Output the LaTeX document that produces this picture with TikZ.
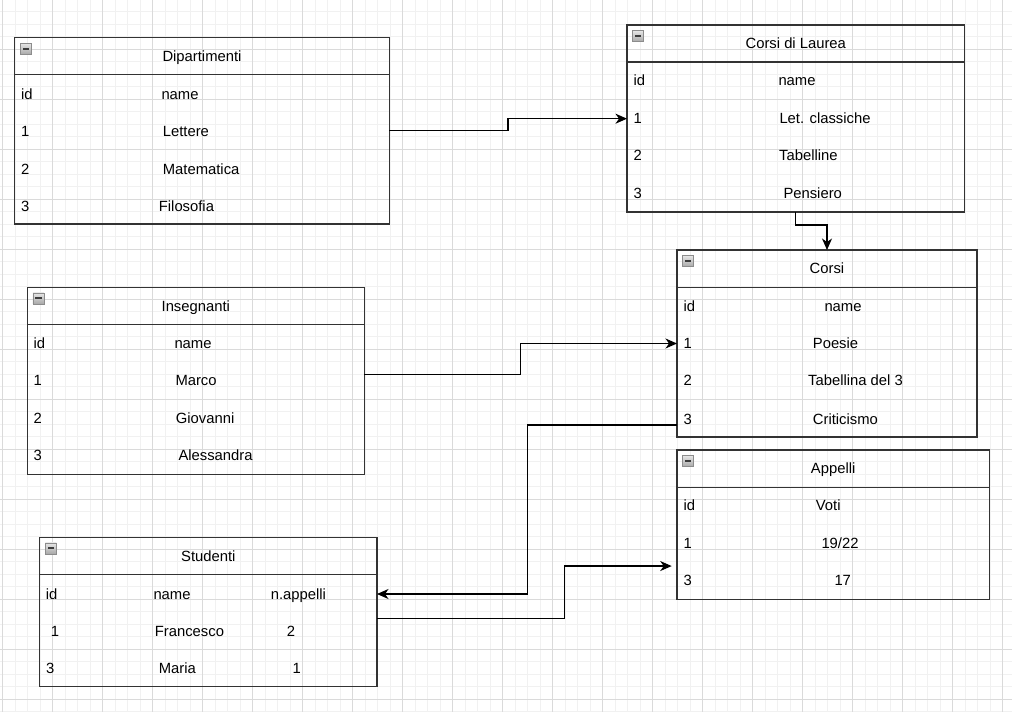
\documentclass[tikz,border=0pt]{standalone}
\usepackage{fontspec}
\setmainfont{Liberation Sans}
\usetikzlibrary{arrows.meta}

\definecolor{gridminor}{HTML}{F1F1F1}
\definecolor{gridmajor}{HTML}{DADADA}
\definecolor{boxline}{HTML}{333333}
\definecolor{iconedge}{HTML}{8C8C8C}
\definecolor{iconlight}{HTML}{E6E6E6}
\definecolor{icondark}{HTML}{A8A8A8}
\definecolor{iconbar}{HTML}{3C3C3C}

\newcommand{\tabfont}{\fontsize{14.8}{17}\selectfont}

\tikzset{
    tablebox/.style={draw=boxline, line width=1.3pt, inner sep=0pt, outer sep=0pt, anchor=north west},
    divider/.style={draw=boxline, line width=1.3pt},
    cell/.style={anchor=west, inner sep=0pt, text height=10.5pt, text depth=0pt, font=\tabfont},
    title/.style={anchor=center, inner sep=0pt, text height=10.5pt, text depth=0pt, font=\tabfont},
    icon/.style={draw=iconedge, line width=0.8pt, top color=iconlight, bottom color=icondark,
        minimum size=11pt, inner sep=0pt, outer sep=0pt, anchor=north west,
        path picture={\fill[iconbar] ([xshift=2.2pt,yshift=-1pt]path picture bounding box.west)
            rectangle ([xshift=-2.2pt,yshift=1pt]path picture bounding box.east);}},
    link/.style={draw=black, line width=1.2pt, -{Stealth[length=11.5pt,width=10pt,inset=3.5pt]}}
}

\begin{document}
\begin{tikzpicture}[x=1pt, y=-1pt]
        \useasboundingbox (0,0) rectangle (1012,712);
        \fill[white] (0,0) rectangle (1012,712);

        % grid
        \begin{scope}
            \clip (0,0) rectangle (1012,712);
            \draw[gridminor, line width=1pt, shift={(2.7pt,0.7pt)}] (-25,-25) grid[step=12.5pt] (1025,725);
            \draw[gridmajor, line width=1pt, shift={(2.7pt,0.7pt)}] (-50,-50) grid[step=50pt] (1050,750);
        \end{scope}

        % Dipartimenti
        \node[tablebox, minimum width=374.6pt, minimum height=186.3pt] (dip) at (14.7,37.7) {};
        \draw[divider] (14.7,74.7) -- (389.3,74.7);
        \node[icon] (dipIcon) at (20.3,43.3) {};
        \node[title] (dipT) at (202,56.2) {Dipartimenti};
        \node[cell] (dipIdH) at (21,94) {id};
        \node[cell] (dipNameH) at (161.3,94) {name};
        \node[cell] (dipId1) at (21,131) {1};
        \node[cell] (dipName1) at (162.7,131) {Lettere};
        \node[cell] (dipId2) at (21,169) {2};
        \node[cell] (dipName2) at (162.7,169) {Matematica};
        \node[cell] (dipId3) at (21,206) {3};
        \node[cell] (dipName3) at (158.7,206) {Filosofia};

        % Corsi di Laurea
        \node[tablebox, minimum width=337.7pt, minimum height=187pt] (cdl) at (627,25) {};
        \draw[divider] (627,62) -- (964.7,62);
        \node[icon] (cdlIcon) at (632.6,30.6) {};
        \node[title] (cdlT) at (795.8,43.5) {Corsi di Laurea};
        \node[cell] (cdlIdH) at (633.3,80.7) {id};
        \node[cell] (cdlNameH) at (778.3,80.7) {name};
        \node[cell] (cdlId1) at (633.3,118.7) {1};
        \node[cell] (cdlName1) at (779.3,118.7) {Let. classiche};
        \node[cell] (cdlId2) at (633.3,155.7) {2};
        \node[cell] (cdlName2) at (779,155.7) {Tabelline};
        \node[cell] (cdlId3) at (633.3,193.7) {3};
        \node[cell] (cdlName3) at (783.3,193.7) {Pensiero};

        % Corsi
        \node[tablebox, minimum width=300pt, minimum height=187pt] (corsi) at (677,250) {};
        \draw[divider] (677,287.3) -- (977,287.3);
        \node[icon] (corsiIcon) at (682.6,255.6) {};
        \node[title] (corsiT) at (827,268.7) {Corsi};
        \node[cell] (corsiIdH) at (683.3,306) {id};
        \node[cell] (corsiNameH) at (824.3,306) {name};
        \node[cell] (corsiId1) at (683.3,343.7) {1};
        \node[cell] (corsiName1) at (812.7,343.7) {Poesie};
        \node[cell] (corsiId2) at (683.3,380.7) {2};
        \node[cell] (corsiName2) at (808,380.7) {Tabellina del 3};
        \node[cell] (corsiId3) at (683.3,419) {3};
        \node[cell] (corsiName3) at (812.7,419) {Criticismo};

        % Insegnanti
        \node[tablebox, minimum width=337pt, minimum height=187pt] (ins) at (27.3,287.3) {};
        \draw[divider] (27.3,324.3) -- (364.3,324.3);
        \node[icon] (insIcon) at (32.9,292.9) {};
        \node[title] (insT) at (195.8,305.8) {Insegnanti};
        \node[cell] (insIdH) at (33.3,343.3) {id};
        \node[cell] (insNameH) at (174.3,343.3) {name};
        \node[cell] (insId1) at (33.3,380.7) {1};
        \node[cell] (insName1) at (175.3,380.7) {Marco};
        \node[cell] (insId2) at (33.3,418.3) {2};
        \node[cell] (insName2) at (175.7,418.3) {Giovanni};
        \node[cell] (insId3) at (33.3,455.7) {3};
        \node[cell] (insName3) at (178.3,455.7) {Alessandra};

        % Appelli
        \node[tablebox, minimum width=312.3pt, minimum height=149.7pt] (app) at (677,450) {};
        \draw[divider] (677,487.3) -- (989.3,487.3);
        \node[icon] (appIcon) at (682.6,455.6) {};
        \node[title] (appT) at (833.2,468.7) {Appelli};
        \node[cell] (appIdH) at (683.3,505.7) {id};
        \node[cell] (appVotiH) at (815.7,505.7) {Voti};
        \node[cell] (appId1) at (683.3,543.7) {1};
        \node[cell] (appVoti1) at (821.3,543.7) {19/22};
        \node[cell] (appId3) at (683.3,580.7) {3};
        \node[cell] (appVoti3) at (834.3,580.7) {17};

        % Studenti
        \node[tablebox, minimum width=337.3pt, minimum height=149.4pt] (stu) at (39.7,537.3) {};
        \draw[divider] (39.7,574.7) -- (377,574.7);
        \node[icon] (stuIcon) at (45.3,542.9) {};
        \node[title] (stuT) at (208.3,556) {Studenti};
        \node[cell] (stuIdH) at (45.7,594) {id};
        \node[cell] (stuNameH) at (153.3,594) {name};
        \node[cell] (stuAppH) at (270.7,594) {n.appelli};
        \node[cell] (stuId1) at (50.7,631) {1};
        \node[cell] (stuName1) at (154.7,631) {Francesco};
        \node[cell] (stuApp1) at (286.7,631) {2};
        \node[cell] (stuId3) at (46,668.7) {3};
        \node[cell] (stuName3) at (158.7,668.7) {Maria};
        \node[cell] (stuApp3) at (292.3,668.7) {1};

        % connectors
        \coordinate (corsiOut) at (corsi.west |- corsiId3.west);
        \coordinate (appIn) at ([xshift=-5.3pt,yshift=-41.2pt]app.west);

        \draw[link] (dip.east) -- ++(118.7,0) |- (cdl.west |- cdlId1.west);
        \draw[link] (cdl.south) -- ++(0,13) -| (corsi.north);
        \draw[link] ([yshift=6.5pt]ins.east) -- ++(156.4,0) |- (corsi.west);
        \draw[link] ([yshift=-6pt]corsiOut) -- ++(-149.7,0) |- (stu.east |- stuAppH.west);
        \draw[link] ([yshift=-6.3pt]stu.east) -- ++(187.3,0) |- (appIn);

    \end{tikzpicture}
\end{document}
